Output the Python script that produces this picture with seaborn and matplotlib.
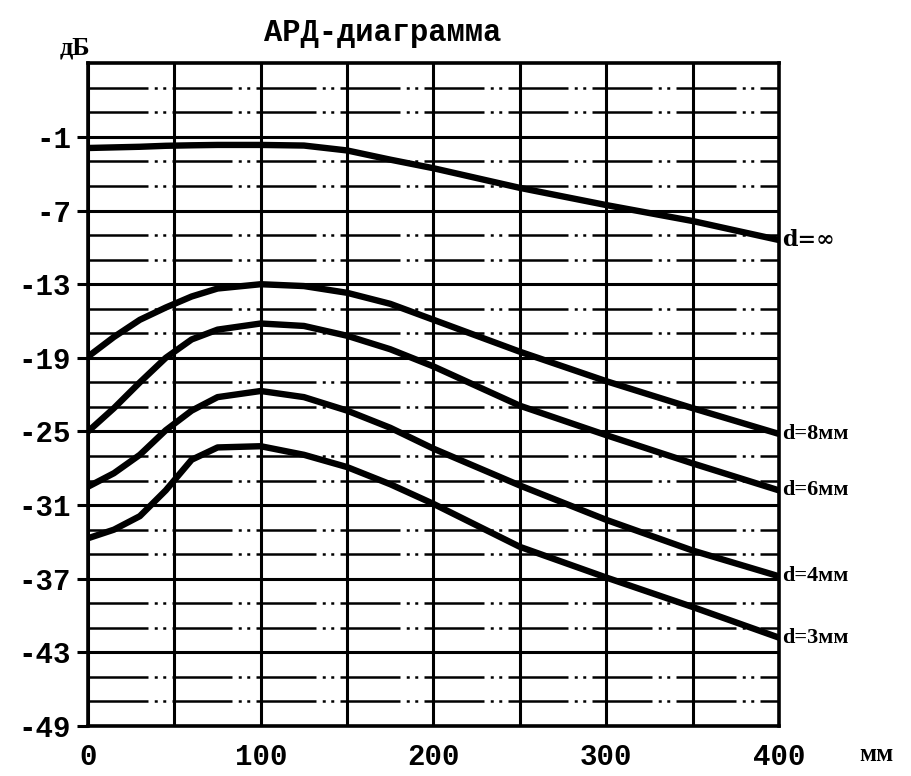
import matplotlib
matplotlib.use("Agg")
import matplotlib.pyplot as plt
import numpy as np
import pandas as pd
import seaborn as sns
from matplotlib.ticker import FixedLocator

# ---------------- data ----------------
distance_mm = [0, 15, 30, 45, 60, 75, 100, 125, 150, 175, 200, 250, 300, 350, 400]
d_inf = [-1.9, -1.85, -1.8, -1.72, -1.68, -1.65, -1.65, -1.7, -2.1, -2.85, -3.55, -5.15, -6.55, -7.85, -9.4]
d_8mm = [-18.9, -17.3, -15.9, -14.9, -14.0, -13.35, -13.0, -13.15, -13.7, -14.6, -15.9, -18.5, -20.9, -23.1, -25.2]
d_6mm = [-25.0, -23.1, -21.0, -19.0, -17.5, -16.7, -16.2, -16.4, -17.2, -18.3, -19.7, -22.9, -25.3, -27.6, -29.8]
d_4mm = [-29.5, -28.4, -26.9, -24.9, -23.3, -22.2, -21.7, -22.2, -23.3, -24.7, -26.4, -29.4, -32.2, -34.7, -36.8]
d_3mm = [-33.7, -33.0, -31.9, -29.8, -27.3, -26.3, -26.2, -26.9, -27.9, -29.3, -30.9, -34.4, -36.9, -39.3, -41.8]

curve_names = ["d=∞", "d=8мм", "d=6мм", "d=4мм", "d=3мм"]
curve_values = [d_inf, d_8mm, d_6mm, d_4mm, d_3mm]

x_tick_values = [0, 100, 200, 300, 400]
x_grid_values = [50, 150, 250, 350]
y_major_values = [-49, -43, -37, -31, -25, -19, -13, -7, -1]
y_tick_labels = ["-49", "-43", "-37", "-31", "-25", "-19", "-13", "-7", "-1"]
y_minor_values = [v for v in range(-47, 5, 2) if v not in y_major_values]

title_text = "АРД-диаграмма"
y_unit = "дБ"
x_unit = "мм"

# ---------------- figure ----------------
sns.set_theme(style="white")
plt.rcParams['font.family'] = ['Liberation Mono', 'DejaVu Sans Mono', 'DejaVu Sans']

fig = plt.figure(figsize=(9.11, 7.76), dpi=100)
fig.patch.set_facecolor("white")
ax = fig.add_axes([0.0966, 0.0644, 0.7585, 0.854])

df = pd.concat(
    [pd.DataFrame({"x": distance_mm, "db": vals, "curve": name})
     for name, vals in zip(curve_names, curve_values)],
    ignore_index=True)

sns.lineplot(data=df, x="x", y="db", hue="curve", palette=["black"] * len(curve_names),
             linewidth=4.6, legend=False, sort=False, ax=ax, zorder=5)

ax.set_xlim(0, 400)
ax.set_ylim(-49, 5)
ax.set_xlabel("")
ax.set_ylabel("")

ax.xaxis.set_major_locator(FixedLocator(x_tick_values))
ax.xaxis.set_minor_locator(FixedLocator(x_grid_values))
ax.set_yticks(y_major_values)
ax.set_yticklabels(y_tick_labels)
ax.yaxis.set_minor_locator(FixedLocator(y_minor_values))

ax.grid(which="major", axis="both", color="black", linewidth=2.2, linestyle="-")
ax.grid(which="minor", axis="x", color="black", linewidth=2.2, linestyle="-")
ax.grid(which="minor", axis="y", color="black", linewidth=1.8,
        linestyle=(0, (24, 2.5, 1.2, 2.2, 1.2, 2.5)))
ax.set_axisbelow(True)

for sp in ax.spines.values():
    sp.set_visible(True)
    sp.set_color("black")
    sp.set_linewidth(2.6)

ax.tick_params(axis="y", which="major", direction="out", length=8, width=2.2,
               color="black", left=True, pad=4, labelsize=21, labelcolor="black")
ax.tick_params(axis="x", which="major", length=0, pad=12, labelsize=21, labelcolor="black")
ax.tick_params(which="minor", length=0)
for lab in ax.get_xticklabels() + ax.get_yticklabels():
    lab.set_fontweight("bold")

# curve labels at the right end
for name, vals in zip(curve_names, curve_values):
    fam = ["DejaVu Serif", "DejaVu Sans"] if "∞" in name else \
          ["Liberation Serif", "DejaVu Serif", "DejaVu Sans"]
    ax.text(402, vals[-1], name, ha="left", va="center", fontsize=16, fontweight="bold",
            family=fam, color="black", clip_on=False)

fig.text(0.42, 0.957, title_text, ha="center", va="center", fontsize=22, fontweight="bold",
         color="black")
fig.text(0.082, 0.938, y_unit, ha="center", va="center", fontsize=19, fontweight="bold",
         family=["Liberation Serif", "DejaVu Serif"], color="black")
fig.text(0.962, 0.028, x_unit, ha="center", va="center", fontsize=18, fontweight="bold",
         family=["Liberation Serif", "DejaVu Serif"], color="black")

fig.savefig("out.png", dpi=100, facecolor="white")
